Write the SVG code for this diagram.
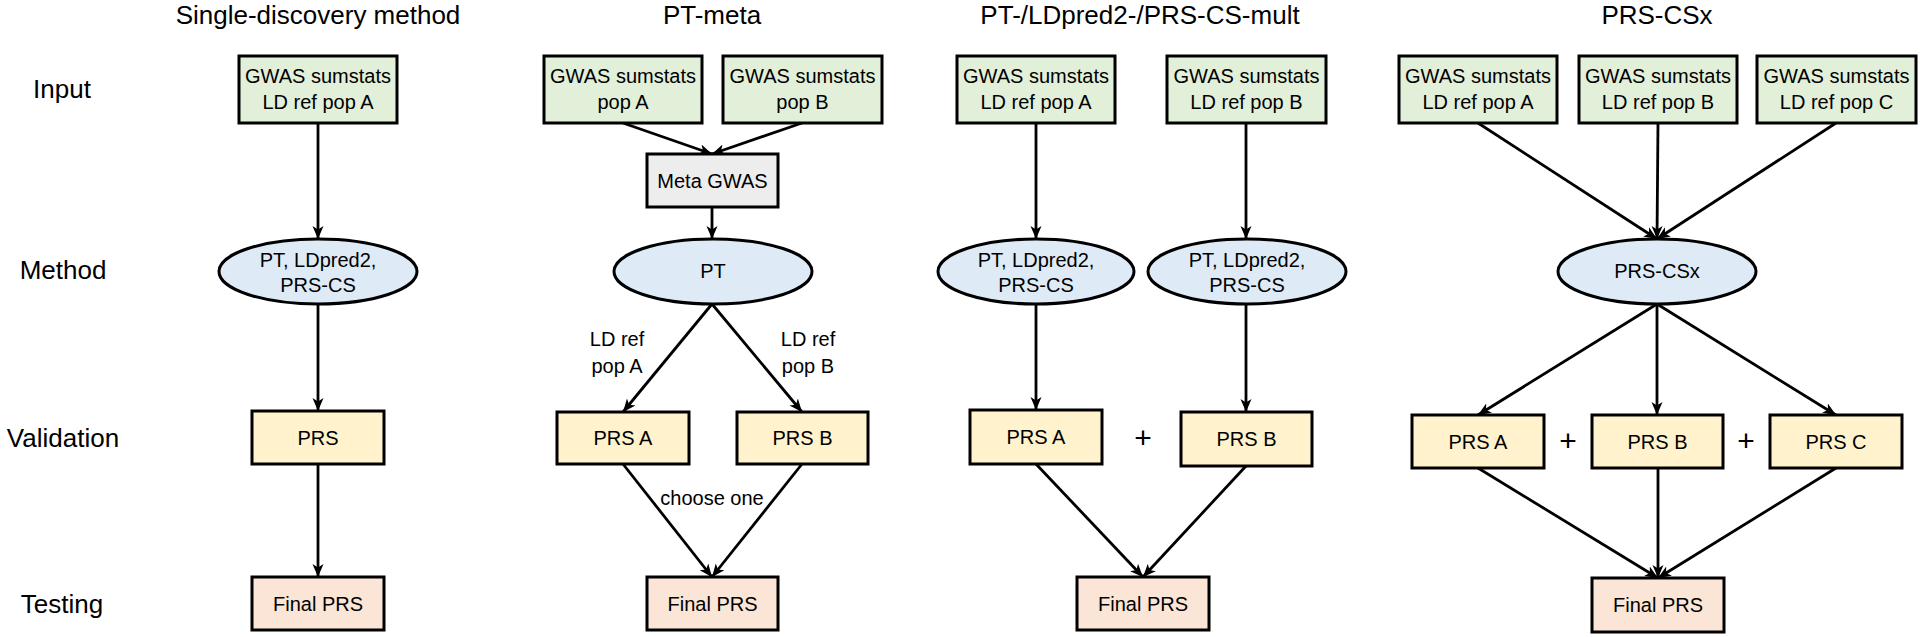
<svg xmlns="http://www.w3.org/2000/svg" width="1920" height="637" viewBox="0 0 1920 637">
<style>
text{font-family:"Liberation Sans",Arial,sans-serif;fill:#000;text-anchor:middle}
.title{font-size:26px}
.row{font-size:26px}
.t{font-size:20px}
.plus{font-size:30px}
.box{stroke:#000;stroke-width:3}
.in{fill:#e2efd9}
.meth{fill:#deebf7}
.val{fill:#fff2cc}
.fin{fill:#fbe5d6}
.gray{fill:#ededed}
.edges line{stroke:#000;stroke-width:2.8;marker-end:url(#arr)}
</style>
<defs>
<marker id="arr" markerUnits="userSpaceOnUse" markerWidth="14" markerHeight="12" refX="13" refY="6" orient="auto" viewBox="0 0 14 12">
<path d="M0,0.5 L13,6 L0,11.5 L3.5,6 z" fill="#000"/>
</marker>
</defs>
<rect width="1920" height="637" fill="#fff"/>

<g id="titles">
<text class="title" x="318" y="24">Single-discovery method</text>
<text class="title" x="712" y="24">PT-meta</text>
<text class="title" x="1140" y="24">PT-/LDpred2-/PRS-CS-mult</text>
<text class="title" x="1657" y="24">PRS-CSx</text>
</g>
<g id="rows">
<text class="row" x="62" y="98">Input</text>
<text class="row" x="63" y="279">Method</text>
<text class="row" x="63" y="447">Validation</text>
<text class="row" x="62" y="613">Testing</text>
</g>

<g class="edges" id="connectors">
<line x1="318" y1="123" x2="318" y2="239"/>
<line x1="318" y1="304" x2="318" y2="411"/>
<line x1="318" y1="464" x2="318" y2="577"/>

<line x1="623" y1="123" x2="712" y2="154"/>
<line x1="802" y1="123" x2="712" y2="154"/>
<line x1="712" y1="207" x2="712" y2="239"/>
<line x1="712" y1="304" x2="623" y2="412"/>
<line x1="712" y1="304" x2="802" y2="412"/>
<line x1="623" y1="464" x2="712" y2="577"/>
<line x1="802" y1="464" x2="712" y2="577"/>

<line x1="1036" y1="123" x2="1036" y2="239"/>
<line x1="1246" y1="123" x2="1246" y2="239"/>
<line x1="1036" y1="304" x2="1036" y2="410"/>
<line x1="1246" y1="304" x2="1246" y2="412"/>
<line x1="1036" y1="464" x2="1143" y2="577"/>
<line x1="1246" y1="466" x2="1143" y2="577"/>

<line x1="1478" y1="123" x2="1657" y2="239"/>
<line x1="1658" y1="123" x2="1657" y2="239"/>
<line x1="1836" y1="123" x2="1657" y2="239"/>
<line x1="1657" y1="304" x2="1478" y2="415"/>
<line x1="1657" y1="304" x2="1657" y2="415"/>
<line x1="1657" y1="304" x2="1836" y2="415"/>
<line x1="1478" y1="468" x2="1658" y2="578"/>
<line x1="1658" y1="468" x2="1658" y2="578"/>
<line x1="1836" y1="468" x2="1658" y2="578"/>
</g>

<g id="edge-labels">
<text class="t" x="617" y="346">LD ref</text>
<text class="t" x="617" y="373">pop A</text>
<text class="t" x="808" y="346">LD ref</text>
<text class="t" x="808" y="373">pop B</text>
<text class="t" x="712" y="505">choose one</text>
<text class="plus" x="1143" y="448">+</text>
<text class="plus" x="1568" y="451">+</text>
<text class="plus" x="1746" y="451">+</text>
</g>

<!-- Column 1 -->
<g id="c1-input"><rect class="box in" x="239" y="56" width="158" height="67"/><text class="t" x="318" y="83">GWAS sumstats</text><text class="t" x="318" y="109">LD ref pop A</text></g>
<g id="c1-method"><ellipse class="box meth" cx="318" cy="271.5" rx="99" ry="32.5"/><text class="t" x="318" y="267">PT, LDpred2,</text><text class="t" x="318" y="292">PRS-CS</text></g>
<g id="c1-prs"><rect class="box val" x="252" y="411" width="132" height="53"/><text class="t" x="318" y="445">PRS</text></g>
<g id="c1-final"><rect class="box fin" x="252" y="577" width="132" height="53"/><text class="t" x="318" y="611">Final PRS</text></g>

<!-- Column 2 -->
<g id="c2-inputA"><rect class="box in" x="544" y="56" width="158" height="67"/><text class="t" x="623" y="83">GWAS sumstats</text><text class="t" x="623" y="109">pop A</text></g>
<g id="c2-inputB"><rect class="box in" x="723" y="56" width="159" height="67"/><text class="t" x="802.5" y="83">GWAS sumstats</text><text class="t" x="802.5" y="109">pop B</text></g>
<g id="c2-meta"><rect class="box gray" x="647" y="154" width="131" height="53"/><text class="t" x="712.5" y="188">Meta GWAS</text></g>
<g id="c2-method"><ellipse class="box meth" cx="713" cy="271.5" rx="99" ry="32.5"/><text class="t" x="713" y="278">PT</text></g>
<g id="c2-prsA"><rect class="box val" x="557" y="412" width="132" height="52"/><text class="t" x="623" y="445">PRS A</text></g>
<g id="c2-prsB"><rect class="box val" x="737" y="412" width="131" height="52"/><text class="t" x="802.5" y="445">PRS B</text></g>
<g id="c2-final"><rect class="box fin" x="647" y="577" width="131" height="53"/><text class="t" x="712.5" y="611">Final PRS</text></g>

<!-- Column 3 -->
<g id="c3-inputA"><rect class="box in" x="957" y="56" width="158" height="67"/><text class="t" x="1036" y="83">GWAS sumstats</text><text class="t" x="1036" y="109">LD ref pop A</text></g>
<g id="c3-inputB"><rect class="box in" x="1167" y="56" width="159" height="67"/><text class="t" x="1246.5" y="83">GWAS sumstats</text><text class="t" x="1246.5" y="109">LD ref pop B</text></g>
<g id="c3-methodA"><ellipse class="box meth" cx="1036" cy="271.5" rx="98" ry="32.5"/><text class="t" x="1036" y="267">PT, LDpred2,</text><text class="t" x="1036" y="292">PRS-CS</text></g>
<g id="c3-methodB"><ellipse class="box meth" cx="1247" cy="271.5" rx="99" ry="32.5"/><text class="t" x="1247" y="267">PT, LDpred2,</text><text class="t" x="1247" y="292">PRS-CS</text></g>
<g id="c3-prsA"><rect class="box val" x="970" y="410" width="132" height="54"/><text class="t" x="1036" y="444">PRS A</text></g>
<g id="c3-prsB"><rect class="box val" x="1181" y="412" width="131" height="54"/><text class="t" x="1246.5" y="446">PRS B</text></g>
<g id="c3-final"><rect class="box fin" x="1077" y="577" width="132" height="53"/><text class="t" x="1143" y="611">Final PRS</text></g>

<!-- Column 4 -->
<g id="c4-inputA"><rect class="box in" x="1399" y="56" width="158" height="67"/><text class="t" x="1478" y="83">GWAS sumstats</text><text class="t" x="1478" y="109">LD ref pop A</text></g>
<g id="c4-inputB"><rect class="box in" x="1579" y="56" width="158" height="67"/><text class="t" x="1658" y="83">GWAS sumstats</text><text class="t" x="1658" y="109">LD ref pop B</text></g>
<g id="c4-inputC"><rect class="box in" x="1757" y="56" width="159" height="67"/><text class="t" x="1836.5" y="83">GWAS sumstats</text><text class="t" x="1836.5" y="109">LD ref pop C</text></g>
<g id="c4-method"><ellipse class="box meth" cx="1657" cy="271.5" rx="99" ry="32.5"/><text class="t" x="1657" y="278">PRS-CSx</text></g>
<g id="c4-prsA"><rect class="box val" x="1412" y="415" width="132" height="53"/><text class="t" x="1478" y="449">PRS A</text></g>
<g id="c4-prsB"><rect class="box val" x="1592" y="415" width="131" height="53"/><text class="t" x="1657.5" y="449">PRS B</text></g>
<g id="c4-prsC"><rect class="box val" x="1770" y="415" width="132" height="53"/><text class="t" x="1836" y="449">PRS C</text></g>
<g id="c4-final"><rect class="box fin" x="1592" y="578" width="132" height="54"/><text class="t" x="1658" y="612">Final PRS</text></g>
</svg>
